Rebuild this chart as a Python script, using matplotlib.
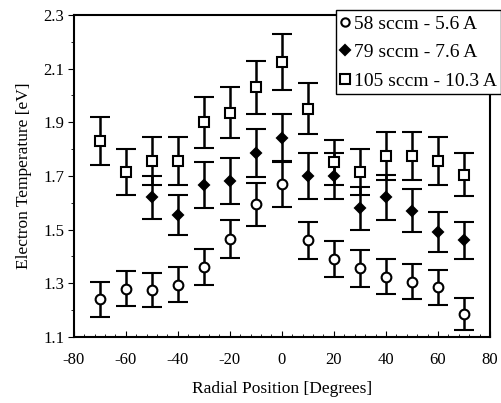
import numpy as np
import matplotlib.pyplot as plt
from matplotlib.lines import Line2D
from matplotlib.ticker import MultipleLocator

plt.rcParams['font.family'] = ['Liberation Serif', 'DejaVu Serif']
plt.rcParams['axes.unicode_minus'] = False

# -----------------------------
# Data
# -----------------------------
pos_all = [-70, -60, -50, -40, -30, -20, -10, 0, 10, 20, 30, 40, 50, 60, 70]
pos_79 = [-50, -40, -30, -20, -10, 0, 10, 20, 30, 40, 50, 60, 70]

te_58 = [1.24, 1.28, 1.275, 1.295, 1.36, 1.465, 1.595, 1.67, 1.46, 1.39, 1.355, 1.325, 1.305, 1.285, 1.185]
err_58 = [0.065, 0.065, 0.065, 0.065, 0.068, 0.07, 0.08, 0.085, 0.07, 0.068, 0.068, 0.065, 0.065, 0.065, 0.06]

te_79 = [1.62, 1.555, 1.665, 1.68, 1.785, 1.84, 1.70, 1.70, 1.58, 1.62, 1.57, 1.49, 1.46]
err_79 = [0.08, 0.075, 0.085, 0.085, 0.09, 0.09, 0.085, 0.085, 0.08, 0.085, 0.08, 0.075, 0.07]

te_105 = [1.83, 1.715, 1.755, 1.755, 1.90, 1.935, 2.03, 2.125, 1.95, 1.75, 1.715, 1.775, 1.775, 1.755, 1.705]
err_105 = [0.09, 0.085, 0.09, 0.09, 0.095, 0.095, 0.10, 0.105, 0.095, 0.085, 0.085, 0.09, 0.09, 0.09, 0.08]

labels = ["58 sccm - 5.6 A", "79 sccm - 7.6 A", "105 sccm - 10.3 A"]

# -----------------------------
# Plot
# -----------------------------
fig = plt.figure(figsize=(5.02, 4.03), dpi=100)
ax = fig.add_axes([0.147, 0.164, 0.829, 0.799])

common = dict(color="black", ecolor="black", elinewidth=1.8, capsize=7.5, capthick=1.6,
              linestyle="none", markeredgewidth=1.5)

ax.errorbar(pos_all, te_58, yerr=err_58, marker="o", markerfacecolor="white",
            markersize=7, **common)
ax.errorbar(pos_79, te_79, yerr=err_79, marker="D", markerfacecolor="black",
            markersize=5.5, **common)
ax.errorbar(pos_all, te_105, yerr=err_105, marker="s", markerfacecolor="white",
            markersize=7, **common)

ax.set_xlim(-80, 80)
ax.set_ylim(1.1, 2.3)
ax.set_xticks(np.arange(-80, 81, 20))
ax.set_yticks(np.arange(1.1, 2.31, 0.2))
ax.set_yticklabels([f"{v:.1f}" for v in np.arange(1.1, 2.31, 0.2)])
ax.xaxis.set_minor_locator(MultipleLocator(4))
ax.yaxis.set_minor_locator(MultipleLocator(0.1))
ax.tick_params(axis="x", which="both", direction="in", labelsize=12, pad=11)
ax.tick_params(axis="y", which="both", direction="out", labelsize=12, pad=3)
ax.tick_params(which="major", length=4)
ax.tick_params(which="minor", length=2.5)

for sp in ax.spines.values():
    sp.set_linewidth(1.5)

ax.set_xlabel("Radial Position [Degrees]", fontsize=12.5, labelpad=9)
ax.set_ylabel("Electron Temperature [eV]", fontsize=12.5, labelpad=8)

# legend: markers only, box hanging over the top-right corner
handles = [
    Line2D([], [], color="black", marker="o", markerfacecolor="white",
           markersize=6, markeredgewidth=1.5, linestyle="none"),
    Line2D([], [], color="black", marker="D", markerfacecolor="black",
           markersize=5, markeredgewidth=1.5, linestyle="none"),
    Line2D([], [], color="black", marker="s", markerfacecolor="white",
           markersize=6.5, markeredgewidth=1.5, linestyle="none"),
]
leg = fig.legend(handles, labels, loc="upper right", bbox_to_anchor=(0.999, 0.974),
                 handlelength=0.4, handletextpad=0.25, fontsize=14, frameon=True,
                 fancybox=False, borderaxespad=0.0, labelspacing=0.55, borderpad=0.25)
leg.get_frame().set_edgecolor("black")
leg.get_frame().set_linewidth(1.0)
leg.get_frame().set_alpha(1)

fig.savefig("out.png", dpi=100)
